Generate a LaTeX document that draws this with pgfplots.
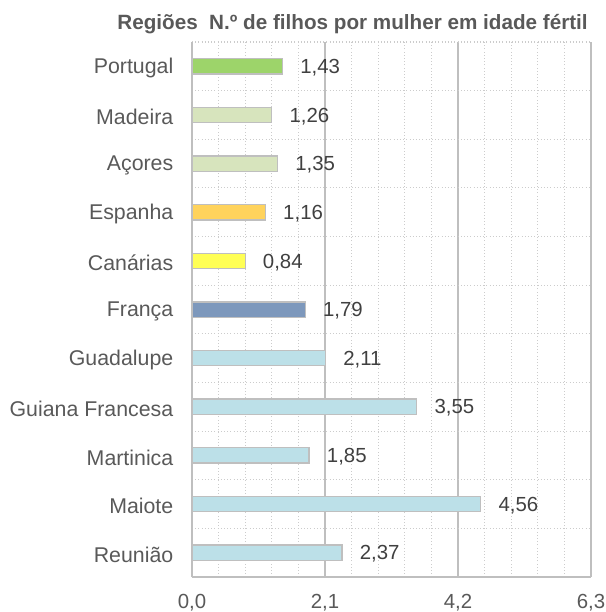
\documentclass[border=0pt]{standalone}
\usepackage{pgfplots}
\pgfplotsset{compat=1.18}
\usepackage{fontspec}
\setmainfont{Liberation Sans}
\definecolor{txt}{HTML}{595959}
\definecolor{vtxt}{HTML}{404040}
\definecolor{bord}{HTML}{BFBFBF}
\definecolor{cpt}{HTML}{9DD46A}
\definecolor{clg}{HTML}{D7E4BD}
\definecolor{cor}{HTML}{FFD35C}
\definecolor{cye}{HTML}{FFFF55}
\definecolor{cst}{HTML}{7D98BC}
\definecolor{clb}{HTML}{BCE0E8}
\begin{document}
\begin{tikzpicture}[x=0.75pt,y=0.75pt]
\useasboundingbox (-192,-35) rectangle (414,577);
\begin{axis}[
  at={(0,0)}, anchor=south west,
  scale only axis,
  width=299.25pt, height=401.25pt,
  xbar, bar width=11.5pt, bar shift=0pt,
  xmin=0, xmax=6.3,
  ymin=-0.5, ymax=10.5,
  xtick={0,2.1,4.2,6.3},
  minor x tick num=4,
  ytick={0,...,10},
  yticklabels={Reunião,Maiote,Martinica,Guiana Francesa,Guadalupe,França,Canárias,Espanha,Açores,Madeira,Portugal},
  minor ytick={-0.5,0.5,...,10.5},
  xmajorgrids, xminorgrids, yminorgrids,
  major grid style={draw=bord, line width=1pt},
  minor grid style={draw=bord!80, dotted, line width=0.8pt},
  axis x line*=bottom, axis y line*=left,
  x axis line style={draw=bord, line width=1.5pt, -},
  y axis line style={draw=bord, line width=2.2pt, -},
  major tick length=0pt, minor tick length=0pt,
  tick style={draw=none},
  tick label style={font=\fontsize{15.3}{18}\selectfont, text=txt},
  /pgf/number format/assume math mode=true,
  xticklabel style={/pgf/number format/.cd, use comma, fixed, fixed zerofill, precision=1, /tikz/.cd, yshift=-9.5pt},
  yticklabel style={font=\fontsize{16}{19}\selectfont, xshift=-10.5pt, yshift=-1.5pt},
  nodes near coords,
  nodes near coords style={font=\fontsize{15.3}{18}\selectfont, text=vtxt, anchor=west, xshift=9.5pt, yshift=-1pt,
    /pgf/number format/.cd, use comma, fixed, fixed zerofill, precision=2},
  clip=false,
]
\addplot[fill=cpt, draw=bord, line width=1pt] coordinates {(1.43,10)};
\addplot[fill=clg, draw=bord, line width=1pt] coordinates {(1.26,9)};
\addplot[fill=clg, draw=bord, line width=1pt] coordinates {(1.35,8)};
\addplot[fill=cor, draw=bord, line width=1pt] coordinates {(1.16,7)};
\addplot[fill=cye, draw=bord, line width=1pt] coordinates {(0.84,6)};
\addplot[fill=cst, draw=bord, line width=1pt] coordinates {(1.79,5)};
\addplot[fill=clb, draw=bord, line width=1pt] coordinates {(2.11,4)};
\addplot[fill=clb, draw=bord, line width=1pt] coordinates {(3.55,3)};
\addplot[fill=clb, draw=bord, line width=1pt] coordinates {(1.85,2)};
\addplot[fill=clb, draw=bord, line width=1pt] coordinates {(4.56,1)};
\addplot[fill=clb, draw=bord, line width=1pt] coordinates {(2.37,0)};
\node[anchor=base east, font=\bfseries\fontsize{15.5}{18}\selectfont, text=txt, inner sep=0pt] at ([xshift=-2.25pt, yshift=9pt]rel axis cs:1,1) {Regiões\ \ N.º de filhos por mulher em idade fértil};
\end{axis}
\end{tikzpicture}
\end{document}
